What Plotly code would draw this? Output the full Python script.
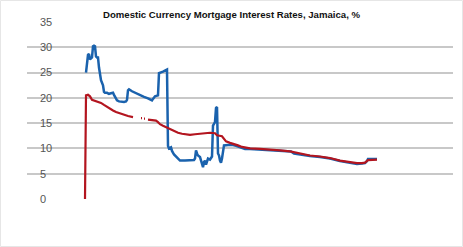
import plotly.graph_objects as go

# Month index (offset from start of series)
blue_month = [1, 2, 3, 4, 5, 6, 7, 8, 9, 10, 11, 12, 13, 14, 15, 16, 17, 18, 19, 20,
              22, 24, 26, 28, 29, 31, 32, 34, 36, 39, 41, 42, 43, 44, 47, 51, 55, 59,
              63, 67, 68, 70, 73, 74, 78, 81, 82, 83, 84, 86, 87, 89, 91, 93, 95, 100,
              105, 109, 110, 111, 112, 113, 115, 116, 117, 118, 119, 120, 121, 122, 123,
              125, 127, 128, 129, 130, 131, 132, 133, 134, 135, 136, 137, 138, 139, 143,
              147, 151, 155, 160, 165, 175, 185, 195, 203, 206, 209, 215, 225, 235, 245,
              255, 265, 272, 277, 280, 282, 283, 287, 292]
blue_rate = [25.0, 26.5, 28.5, 28.7, 27.6, 27.8, 28.0, 30.2, 30.3, 30.2, 28.2, 28.0, 28.0,
             26.0, 24.0, 23.5, 23.0, 22.5, 21.2, 21.0, 21.0, 20.8, 20.9, 21.0, 20.6, 20.0,
             19.5, 19.3, 19.2, 19.2, 19.3, 19.6, 21.5, 21.7, 21.3, 20.9, 20.6, 20.2, 19.9,
             19.5, 19.8, 20.3, 20.5, 24.9, 25.2, 25.4, 25.6, 10.5, 10.0, 10.2, 9.5, 8.8,
             8.4, 7.8, 7.6, 7.6, 7.6, 7.7, 8.0, 9.6, 9.0, 8.6, 8.3, 7.5, 6.5, 6.3, 7.3, 7.6,
             6.8, 7.5, 8.0, 7.8, 8.4, 14.5, 15.0, 15.2, 18.0, 18.2, 9.0, 8.6, 7.6, 7.2, 8.0,
             9.5, 10.6, 10.7, 10.7, 10.5, 10.2, 9.9, 9.9, 9.8, 9.7, 9.6, 9.5, 9.4, 9.0, 8.8,
             8.5, 8.3, 8.0, 7.5, 7.1, 6.9, 7.0, 7.1, 7.5, 7.9, 7.9, 7.9]

red_month = [0, 1, 3, 5, 7, 10, 13, 16, 19, 22, 25, 28, 31, 35, 39, 43, 48, 49, 56, 57, 58,
             59, 60, 61, 63, 67, 71, 73, 75, 78, 81, 85, 89, 93, 97, 101, 105, 110, 115,
             120, 125, 130, 132, 137, 139, 141, 145, 149, 153, 157, 161, 165, 175, 185,
             195, 205, 210, 215, 225, 235, 245, 255, 265, 272, 277, 280, 283, 287, 292]
red_rate = [0.0, 20.5, 20.6, 20.3, 19.6, 19.4, 19.2, 19.0, 18.6, 18.2, 17.8, 17.5, 17.2,
            16.9, 16.6, 16.4, 16.2, None, 16.0, 16.0, None, 15.9, 15.9, None, 15.7, 15.6,
            15.5, 15.2, 14.8, 14.5, 14.2, 13.8, 13.4, 13.1, 12.9, 12.8, 12.7, 12.8, 12.9,
            13.1, 13.1, 13.0, 12.6, 12.4, 12.0, 11.4, 11.1, 10.9, 10.6, 10.3, 10.1, 10.0,
            9.9, 9.8, 9.6, 9.4, 9.2, 9.0, 8.6, 8.4, 8.1, 7.6, 7.3, 7.1, 7.1, 7.2, 7.7, 7.8,
            7.8]

y_ticks = [0, 5, 10, 15, 20, 25, 30, 35]
title_text = "Domestic Currency Mortgage Interest Rates, Jamaica, %"

W, H = 463, 247
ml, mr, mt, mb = 27, 10, 22, 48
pw, ph = W - ml - mr, H - mt - mb

fig = go.Figure()
fig.add_trace(go.Scatter(x=blue_month, y=blue_rate, mode="lines",
                         line=dict(color="#1a62ad", width=2.5), connectgaps=False,
                         showlegend=False))
fig.add_trace(go.Scatter(x=red_month, y=red_rate, mode="lines",
                         line=dict(color="#b3151f", width=2.2), connectgaps=False,
                         showlegend=False))

fig.update_layout(
    width=W, height=H,
    margin=dict(l=ml, r=mr, t=mt, b=mb),
    paper_bgcolor="white", plot_bgcolor="white",
    title=dict(text="<b>" + title_text + "</b>", x=0.5, xanchor="center",
               y=1 - 15 / H, yanchor="middle",
               font=dict(family="Liberation Sans, Arial", size=9.6, color="#111111")),
    xaxis=dict(range=[-58, 368], showgrid=False, showticklabels=False, zeroline=False,
               showline=False, ticks=""),
    yaxis=dict(range=[0, 35], tickmode="array", tickvals=y_ticks,
               showgrid=True, gridcolor="#c8c8c8", gridwidth=2,
               zeroline=False, showline=False, ticks="",
               ticklabelposition="inside", ticklabelstandoff=10,
               ticklabeloverflow="allow",
               tickfont=dict(family="Liberation Sans, Arial", size=11, color="#555555")),
    shapes=[dict(type="rect", xref="paper", yref="paper",
                 x0=(-ml + 0.5) / pw, x1=(W - ml - 0.5) / pw,
                 y0=(-mb + 0.5) / ph, y1=(H - mb - 0.5) / ph,
                 fillcolor="rgba(0,0,0,0)",
                 line=dict(color="#e6e6e6", width=1), layer="above")],
)

fig.write_html("out.html")
